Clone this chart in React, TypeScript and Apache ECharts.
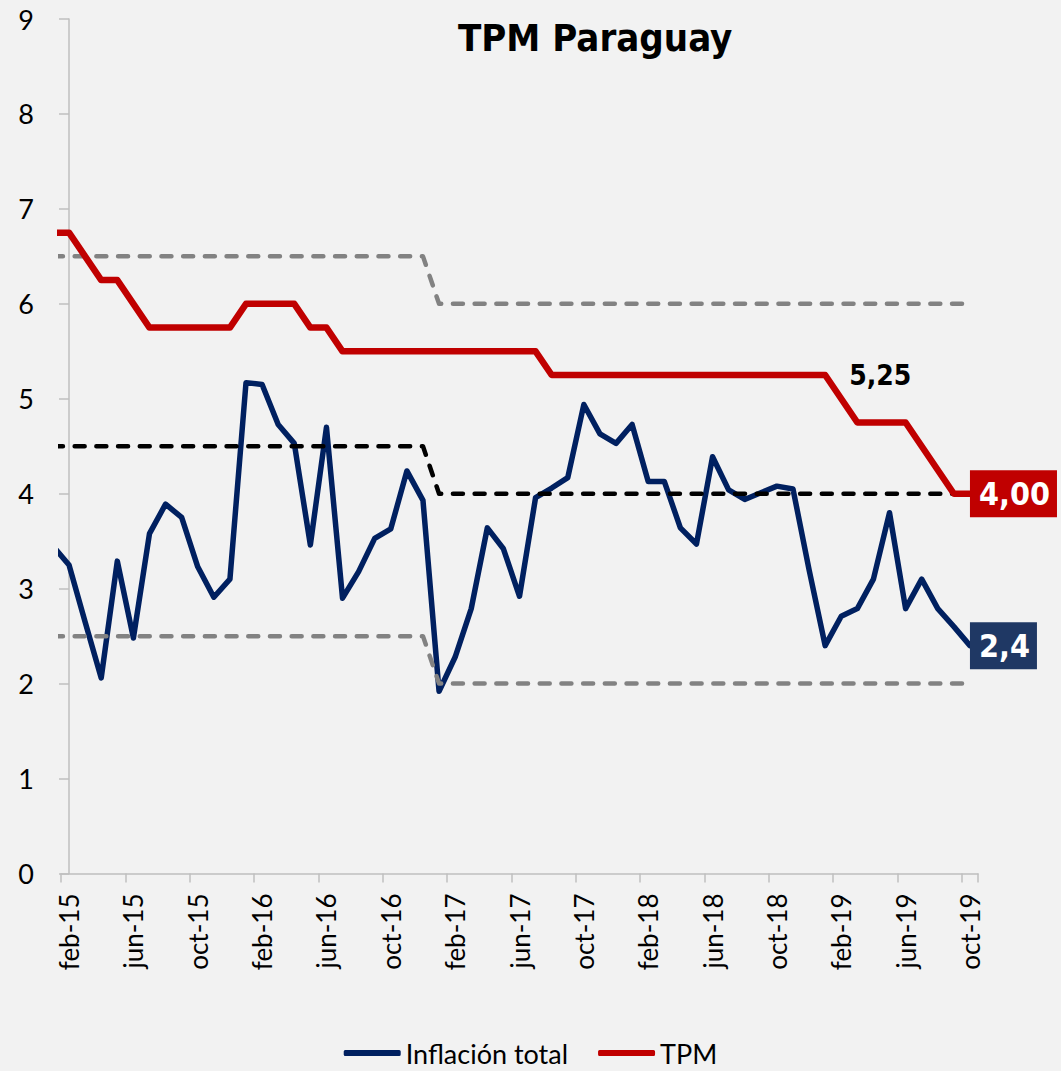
import React, { useEffect, useRef } from "react";
import * as echarts from "echarts";

// Category labels shown on the axis (feb-15 .. oct-19)
const categories = [
  "feb-15", "mar-15", "abr-15", "may-15", "jun-15", "jul-15", "ago-15", "sep-15", "oct-15", "nov-15", "dic-15",
  "ene-16", "feb-16", "mar-16", "abr-16", "may-16", "jun-16", "jul-16", "ago-16", "sep-16", "oct-16", "nov-16", "dic-16",
  "ene-17", "feb-17", "mar-17", "abr-17", "may-17", "jun-17", "jul-17", "ago-17", "sep-17", "oct-17", "nov-17", "dic-17",
  "ene-18", "feb-18", "mar-18", "abr-18", "may-18", "jun-18", "jul-18", "ago-18", "sep-18", "oct-18", "nov-18", "dic-18",
  "ene-19", "feb-19", "mar-19", "abr-19", "may-19", "jun-19", "jul-19", "ago-19", "sep-19", "oct-19",
];

// Series values start one month earlier (ene-15), which is clipped at the left edge of the plot
const inflation = [
  3.45,
  3.25, 2.65, 2.06, 3.29, 2.48, 3.58, 3.89, 3.75, 3.23, 2.91, 3.10,
  5.17, 5.15, 4.73, 4.53, 3.46, 4.70, 2.90, 3.18, 3.53, 3.63, 4.24, 3.93,
  1.92, 2.28, 2.79, 3.64, 3.42, 2.92, 3.96, 4.06, 4.17, 4.94, 4.63, 4.53,
  4.73, 4.13, 4.13, 3.64, 3.47, 4.39, 4.04, 3.94, 4.01, 4.08, 4.05, 3.20,
  2.40, 2.71, 2.79, 3.10, 3.80, 2.79, 3.10, 2.79, 2.60, 2.40,
];

const tpm = [
  6.75,
  6.75, 6.5, 6.25, 6.25, 6.0, 5.75, 5.75, 5.75, 5.75, 5.75, 5.75,
  6.0, 6.0, 6.0, 6.0, 5.75, 5.75, 5.5, 5.5, 5.5, 5.5, 5.5, 5.5,
  5.5, 5.5, 5.5, 5.5, 5.5, 5.5, 5.5, 5.25, 5.25, 5.25, 5.25, 5.25,
  5.25, 5.25, 5.25, 5.25, 5.25, 5.25, 5.25, 5.25, 5.25, 5.25, 5.25, 5.25,
  5.25, 5.0, 4.75, 4.75, 4.75, 4.75, 4.5, 4.25, 4.0, 4.0,
];

// Target band break points: [month index (feb-15 = 0), value]
const bandUpper = [[-1, 6.5], [22, 6.5], [23, 6.0], [56, 6.0]];
const bandTarget = [[-1, 4.5], [22, 4.5], [23, 4.0], [56, 4.0]];
const bandLower = [[-1, 2.5], [22, 2.5], [23, 2.0], [56, 2.0]];

const yTicks = [0, 9, 1]; // min, max, interval

const BLUE = "#002060";
const RED = "#C00000";
const GRAY = "#828282";
const NARROW = "Liberation Sans Narrow, DejaVu Sans Condensed, Roboto, sans-serif";
const BODY = "Lato";

const fmt = (v: number, d: number) => v.toFixed(d).replace(".", ",");

export default function App() {
  const ref = useRef<HTMLDivElement>(null);

  useEffect(() => {
    document.body.style.margin = "0";
    const chart = echarts.init(ref.current!, null, { renderer: "svg" });

    const lastIdx = inflation.length - 1;
    const tpmLabelIdx = tpm.length - 1 - 9; // last month at 5,25

    const boxLabel = (text: string, bg: string) => ({
      show: true,
      position: "right",
      distance: 0,
      formatter: () => text,
      color: "#fff",
      backgroundColor: bg,
      fontFamily: NARROW,
      fontWeight: "bold",
      fontSize: 32,
      lineHeight: 40,
      padding: [4, 7, 3, 9],
    });

    const inflData = inflation.map((v, i) => {
      const item: any = { value: [i - 1, v] };
      if (i === lastIdx) item.label = boxLabel(fmt(v, 1), "#1F3864");
      return item;
    });

    const tpmData = tpm.map((v, i) => {
      const item: any = { value: [i - 1, v] };
      if (i === lastIdx) {
        item.label = boxLabel(fmt(v, 2), RED);
      } else if (i === tpmLabelIdx) {
        item.label = {
          show: true,
          position: "right",
          distance: 24,
          formatter: () => fmt(v, 2),
          color: "#000",
          fontFamily: NARROW,
          fontWeight: "bold",
          fontSize: 28,
        };
      }
      return item;
    });

    const dashed = (name: string, data: number[][], color: string) => ({
      name,
      type: "line",
      xAxisIndex: 1,
      data,
      symbol: "none",
      clip: true,
      silent: true,
      lineStyle: { color, width: 4.5, type: [10, 11.7], cap: "round", join: "round" },
      z: 3,
    });

    chart.setOption({
      animation: false,
      backgroundColor: "#F2F2F2",
      title: {
        text: "TPM Paraguay",
        left: 453,
        top: 14,
        textStyle: { fontFamily: NARROW, fontWeight: "bold", fontSize: 38, color: "#000" },
      },
      legend: {
        data: ["Inflación total", "TPM"],
        left: "center",
        top: 1034,
        icon: "roundRect",
        itemWidth: 57,
        itemHeight: 6,
        itemGap: 30,
        textStyle: { fontFamily: BODY, fontSize: 27, lineHeight: 28, color: "#000" },
      },
      grid: { left: 61, right: 83, top: 19, bottom: 197.5, containLabel: false },
      xAxis: [
        {
          type: "category",
          data: categories,
          boundaryGap: true,
          axisLine: { lineStyle: { color: "#BFBFBF", width: 1.5 } },
          axisTick: {
            show: true,
            interval: (index: number) => index % 4 === 0,
            length: 9,
            alignWithLabel: false,
            lineStyle: { color: "#BFBFBF", width: 1.5 },
          },
          axisLabel: {
            interval: 3,
            rotate: 90,
            margin: 20,
            fontFamily: BODY,
            fontSize: 26,
            color: "#000",
          },
          splitLine: { show: false },
        },
        {
          type: "value",
          min: -0.5,
          max: categories.length - 0.5,
          show: false,
          splitLine: { show: false },
        },
      ],
      yAxis: {
        type: "value",
        min: yTicks[0],
        max: yTicks[1],
        interval: yTicks[2],
        axisLine: { show: true, lineStyle: { color: "#BFBFBF", width: 1.5 } },
        axisTick: { show: true, length: 10, lineStyle: { color: "#BFBFBF", width: 1.5 } },
        axisLabel: { margin: 27, fontFamily: BODY, fontSize: 27, color: "#000" },
        splitLine: { show: false },
      },
      series: [
        {
          name: "Inflación total",
          type: "line",
          xAxisIndex: 1,
          data: inflData,
          symbol: "circle",
          symbolSize: 0,
          showSymbol: true,
          clip: true,
          itemStyle: { color: BLUE },
          lineStyle: { color: BLUE, width: 5.5, join: "round", cap: "round" },
          z: 2,
        },
        dashed("upper", bandUpper, GRAY),
        dashed("lower", bandLower, GRAY),
        dashed("target", bandTarget, "#000"),
        {
          name: "TPM",
          type: "line",
          xAxisIndex: 1,
          data: tpmData,
          symbol: "circle",
          symbolSize: 0,
          showSymbol: true,
          clip: true,
          itemStyle: { color: RED },
          lineStyle: { color: RED, width: 6.5, join: "round", cap: "round" },
          z: 4,
        },
      ],
    });

    return () => chart.dispose();
  }, []);

  return <div ref={ref} style={{ width: 1061, height: 1071 }} />;
}
